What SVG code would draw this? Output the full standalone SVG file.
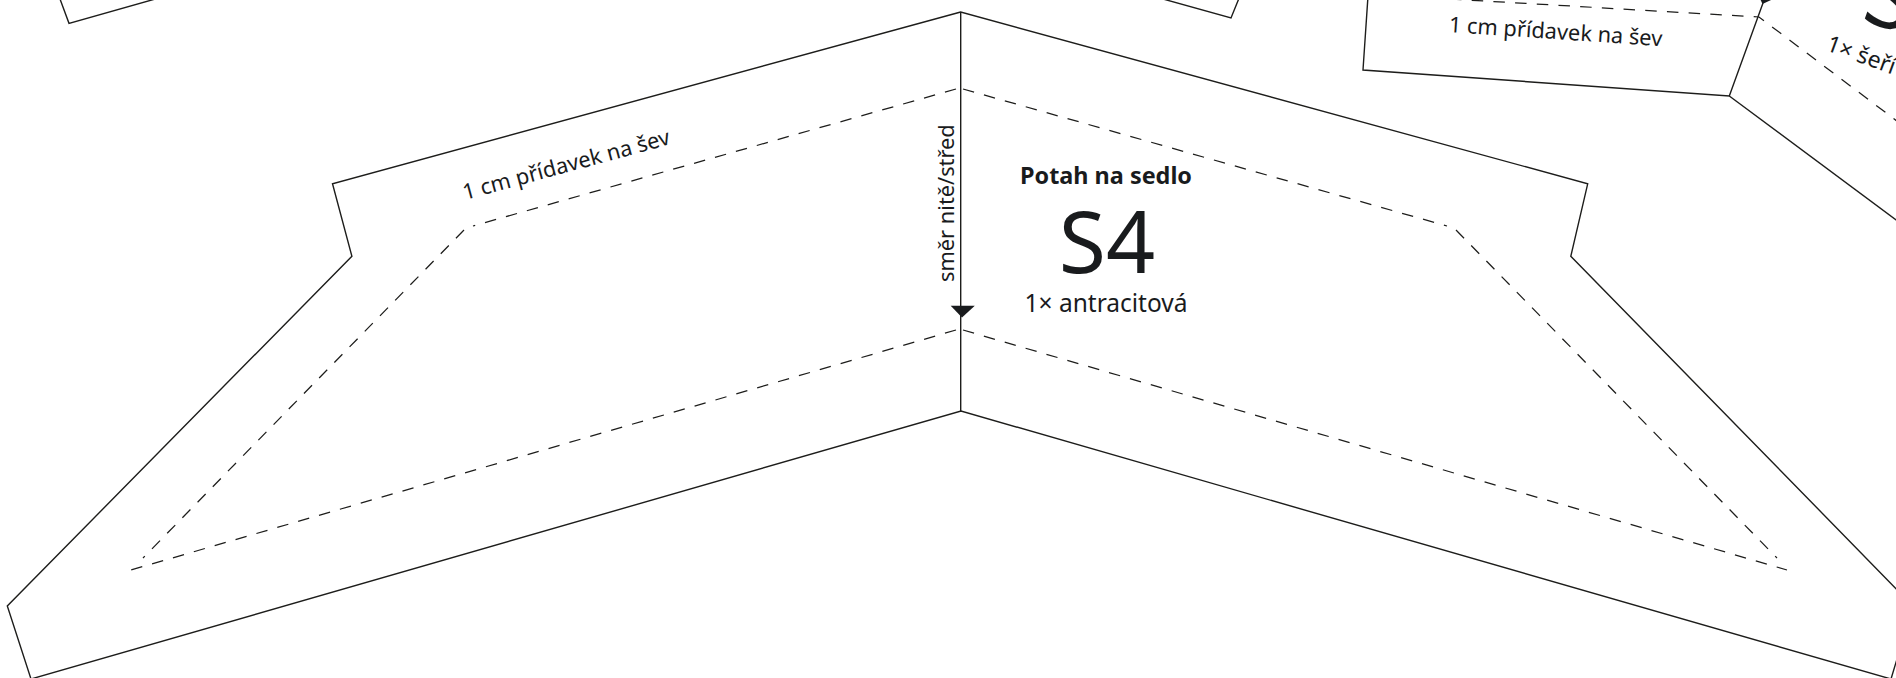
<svg xmlns="http://www.w3.org/2000/svg" width="1896" height="678" viewBox="0 0 1896 678">
<style>
.o{fill:none;stroke:#1d1d1b;stroke-width:1.4;stroke-linejoin:miter}
.d{fill:none;stroke:#1d1d1b;stroke-width:1.25;stroke-dasharray:11.5 10.23}
text{font-family:"Noto Sans","Open Sans",sans-serif;fill:#191b1d}
.t{font-size:21.8px}
</style>
<rect width="1896" height="678" fill="#fff"/>
<g id="connectors">
<path class="o" d="M960.7 12V411"/>
<path d="M950.7 305.7H974.8L962 317.5Z" fill="#191b1d"/>
</g>
<g id="s4">
<path class="o" d="M960.7 12L332.5 183.8L351.9 256.3L7.3 606L31 679L961 411L1891 679L1913 606L1570.8 256.3L1587.7 183.8Z"/>
<path class="d" d="M956 89L473 226"/>
<path class="d" d="M464 230L143 558"/>
<path class="d" d="M956 330L131 570"/>
<path class="d" d="M963 89L1447 226"/>
<path class="d" d="M1456 230L1777 558"/>
<path class="d" d="M963 330L1787 570"/>
<text class="t" transform="translate(465 200) rotate(-15.2)">1 cm přídavek na šev</text>
<text transform="rotate(-90 954 282)" x="954" y="282" class="t">směr nitě/střed</text>
<text x="1106" y="184" font-size="23.4" font-weight="700" text-anchor="middle">Potah na sedlo</text>
<text x="1107" y="273" font-size="86" text-anchor="middle">S4</text>
<text x="1106" y="312" font-size="24.5" text-anchor="middle">1× antracitová</text>
</g>
<g id="fragment-top-left"><path class="o" d="M60 -1L69 23.3L155.3 -1"/></g>
<g id="fragment-top-mid"><path class="o" d="M1163 -1L1231 18L1238.7 -1"/></g>
<g id="fragment-top-right">
<path class="o" d="M1367.8 -1L1363 70L1729.3 96L1763 3"/>
<path d="M1762.5 4L1755.3 -11.4L1777.9 -3.2Z" fill="#191b1d"/>
<path class="o" d="M1729.3 96L1930 245"/>
<path class="d" d="M1450 -1L1759 17L1930 146"/>
<text class="t" transform="translate(1448.5 32) rotate(3.8)">1 cm přídavek na šev</text>
<text font-size="86" transform="translate(1860 19) rotate(20)">S</text>
<text font-size="23" transform="translate(1825 50) rotate(20)">1× šeří</text>
</g>
</svg>
